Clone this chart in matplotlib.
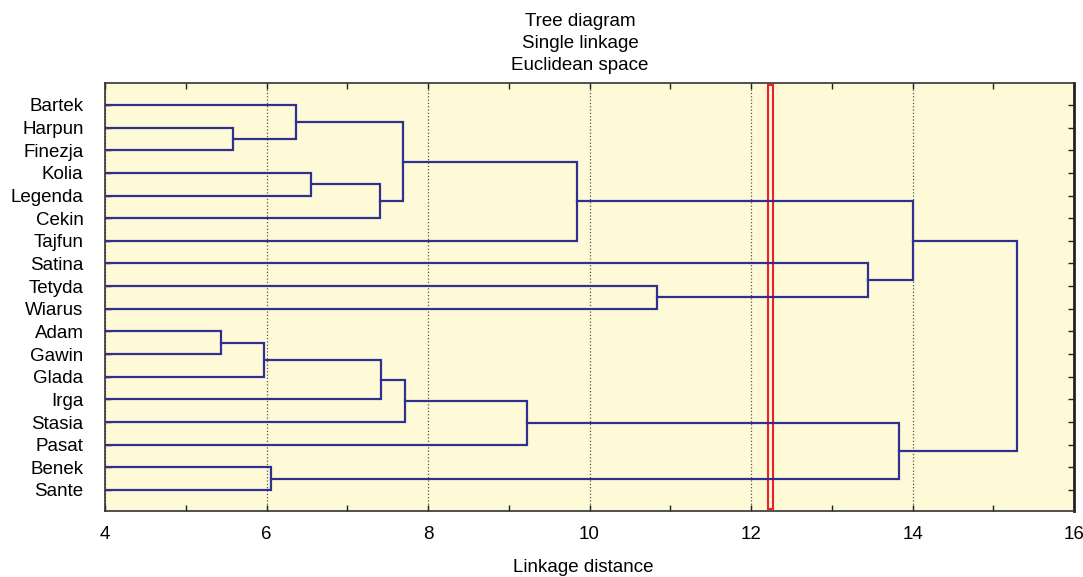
import matplotlib.pyplot as plt
import numpy as np

# Leaves in plotting order (top to bottom).
leaves = ["Bartek", "Harpun", "Finezja", "Kolia", "Legenda", "Cekin", "Tajfun",
          "Satina", "Tetyda", "Wiarus", "Adam", "Gawin", "Glada", "Irga",
          "Stasia", "Pasat", "Benek", "Sante"]

# Merges: (cluster a, cluster b, linkage distance); new clusters get ids 18, 19, ...
merge_a = [10, 1, 18, 16, 0, 3, 23, 20, 22, 25, 27, 26, 8, 7, 28, 29, 33]
merge_b = [11, 2, 12, 17, 19, 4, 5, 13, 24, 14, 15, 6, 9, 30, 21, 31, 32]
merge_dist = [5.44, 5.59, 5.97, 6.05, 6.36, 6.55, 7.40, 7.42, 7.69, 7.72,
              9.23, 9.84, 10.83, 13.45, 13.83, 14.00, 15.29]

cut_distance = 12.24

plt.rcParams['font.family'] = ['Liberation Sans', 'DejaVu Sans']

fig = plt.figure(figsize=(10.83, 5.77), dpi=100)
ax = fig.add_axes([0.097, 0.1144, 0.8947, 0.7423])
ax.set_facecolor("#fef9d6")

line_color = "#2e3192"
pos = {i: float(i) for i in range(len(leaves))}
height = {i: 0.0 for i in range(len(leaves))}
for k, (a, b, d) in enumerate(zip(merge_a, merge_b, merge_dist)):
    ax.plot([height[a], d, d, height[b]], [pos[a], pos[a], pos[b], pos[b]],
            color=line_color, linewidth=1.6, solid_joinstyle="miter")
    new = len(leaves) + k
    pos[new] = (pos[a] + pos[b]) / 2
    height[new] = d

ax.axvspan(cut_distance - 0.03, cut_distance + 0.03, ymin=0.005, ymax=0.995,
           fill=False, edgecolor="#ee2028", linewidth=1.5)

ax.set_xlim(4, 16)
ax.set_ylim(17.93, -0.985)
ax.set_xticks(np.arange(4, 17, 2))
ax.set_xticks(np.arange(5, 16, 2), minor=True)
ax.set_yticks(range(len(leaves)))
ax.set_yticklabels(leaves)
ax.tick_params(axis="both", which="both", direction="in", top=True, right=True,
               labelsize=13.5, length=4, width=1, color="#222222")
ax.tick_params(axis="x", pad=11)
ax.tick_params(axis="y", pad=15.5)
ax.grid(axis="x", which="major", linestyle=":", color="#555555", linewidth=0.9)
ax.set_axisbelow(True)
for side in ["left", "bottom", "top"]:
    ax.spines[side].set_linewidth(1.2)
    ax.spines[side].set_color("#333333")
ax.spines["right"].set_linewidth(2)
ax.spines["right"].set_color("#222222")

fig.text(580 / 1083, 1 - 22 / 577, "Tree diagram", ha="center", va="center", fontsize=13.5)
fig.text(580 / 1083, 1 - 44 / 577, "Single linkage", ha="center", va="center", fontsize=13.5)
fig.text(580 / 1083, 1 - 66 / 577, "Euclidean space", ha="center", va="center", fontsize=13.5)
fig.text(583 / 1083, 1 - 567 / 577, "Linkage distance", ha="center", va="center", fontsize=13.5)

fig.savefig("out.png", dpi=100)
